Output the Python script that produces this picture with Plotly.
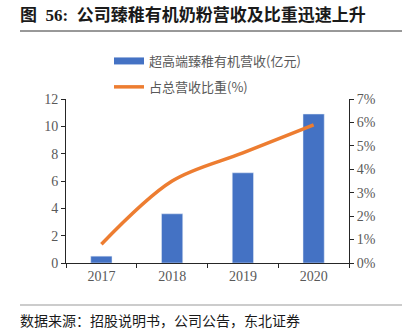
import plotly.graph_objects as go

years = ["2017", "2018", "2019", "2020"]
revenue = [0.5, 3.6, 6.6, 10.9]          # 超高端臻稚有机营收(亿元)
share = [0.008, 0.035, 0.047, 0.059]     # 占总营收比重(%)

bar_name = "超高端臻稚有机营收(亿元)"
line_name = "占总营收比重(%)"
title_text = "<b>图  56:  公司臻稚有机奶粉营收及比重迅速上升</b>"
source_text = "数据来源：招股说明书，公司公告，东北证券"

BLUE = "#4472C4"
ORANGE = "#ED7D31"
GREY = "#595959"
AX = "#262626"
CJK = "Noto Sans CJK SC"
SERIF = "Liberation Serif"

W, H = 406, 333
L, R, T, B = 66, 57, 99, 70
pw, ph = W - L - R, H - T - B

def px_x(x):
    return (x - L) / pw

def px_y(y):
    return (H - B - y) / ph

fig = go.Figure()
fig.add_trace(go.Bar(x=years, y=revenue, marker_color=BLUE, width=0.3,
                     showlegend=False, name=bar_name))
fig.add_trace(go.Scatter(x=years, y=share, yaxis="y2", mode="lines",
                         line=dict(color=ORANGE, width=3.5, shape="spline", smoothing=0.95),
                         showlegend=False, name=line_name))
# legend-only entries
fig.add_trace(go.Scatter(x=[None], y=[None], mode="lines", name=bar_name,
                         line=dict(color=BLUE, width=7), legendgroup="a"))
fig.add_trace(go.Scatter(x=[None], y=[None], mode="lines", name=line_name,
                         line=dict(color=ORANGE, width=3.5), legendgroup="b"))

fig.update_layout(
    width=W, height=H,
    margin=dict(l=L, r=R, t=T, b=B),
    paper_bgcolor="white", plot_bgcolor="white",
    font=dict(family=CJK, color=GREY, size=13),
    title=dict(text=title_text, x=20 / W, xanchor="left", y=1 - 15 / H, yanchor="middle",
               font=dict(family=SERIF + ", " + CJK, size=17, color="#1a1a1a")),
    legend=dict(x=px_x(109), xanchor="left", y=px_y(46), yanchor="top",
                bgcolor="rgba(0,0,0,0)", font=dict(family=CJK, size=13, color=GREY),
                traceorder="grouped", tracegroupgap=6, itemwidth=30),
    xaxis=dict(type="category", range=[-0.5, 3.5], showline=True, linecolor=AX, linewidth=1,
               ticks="outside", ticklen=4, tickcolor=AX, tickson="boundaries",
               tickfont=dict(family=SERIF, size=14, color=GREY), showgrid=False, zeroline=False),
    yaxis=dict(range=[0, 12], dtick=2, showline=True, linecolor=AX, linewidth=1,
               ticks="outside", ticklen=4, tickcolor=AX, showgrid=False, zeroline=False,
               tickfont=dict(family=SERIF, size=14, color=GREY)),
    yaxis2=dict(range=[0, 0.07], dtick=0.01, tickformat=".0%", overlaying="y", side="right",
                showline=True, linecolor=AX, linewidth=1, ticks="outside", ticklen=4,
                tickcolor=AX, showgrid=False, zeroline=False,
                tickfont=dict(family=SERIF, size=14, color=GREY)),
    bargap=0.7,
)

fig.add_shape(type="line", xref="paper", yref="paper", x0=px_x(20), x1=px_x(402),
              y0=px_y(31), y1=px_y(31), line=dict(color="#333333", width=1))
fig.add_shape(type="line", xref="paper", yref="paper", x0=px_x(20), x1=px_x(402),
              y0=px_y(305), y1=px_y(305), line=dict(color="#999999", width=1))
fig.add_annotation(text=source_text, xref="paper", yref="paper", x=px_x(18), xanchor="left",
                   y=px_y(320), yanchor="middle", showarrow=False,
                   font=dict(family=CJK, size=14, color="#1a1a1a"))

fig.write_html("out.html")
